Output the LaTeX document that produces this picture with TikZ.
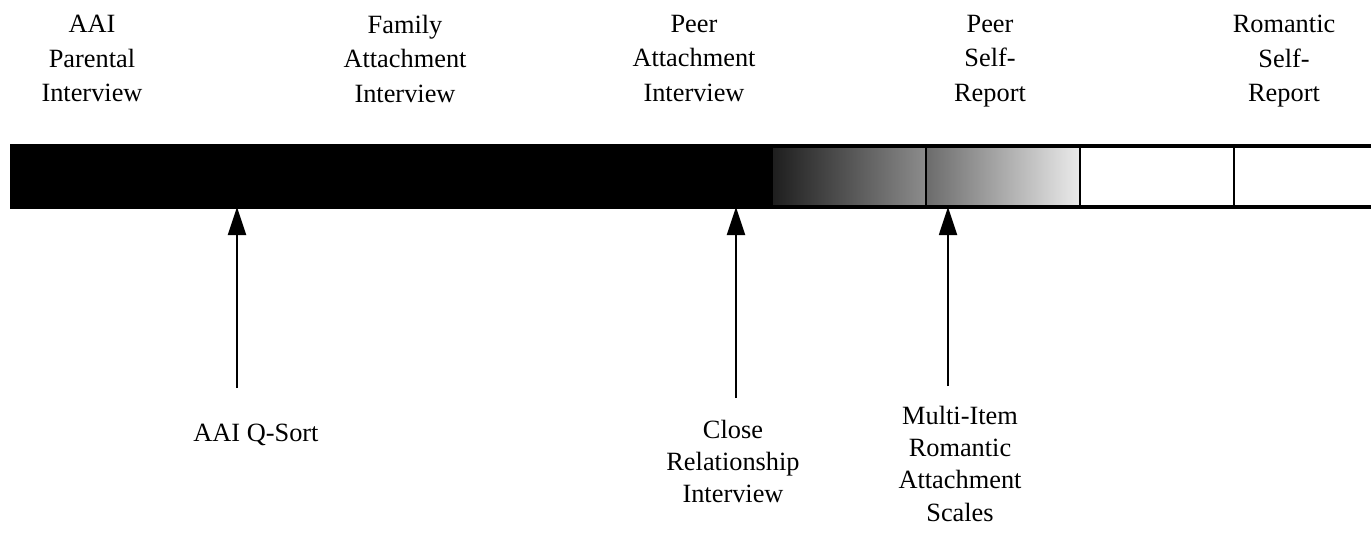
\documentclass[tikz,border=0pt]{standalone}
\usepackage{fontspec}
\setmainfont{Liberation Serif}
\usetikzlibrary{arrows.meta}

\begin{document}
\begin{tikzpicture}[x=0.02cm, y=-0.02cm,
  lbl/.style={align=center, inner sep=0pt, anchor=north,
    font=\fontsize{15}{19.5}\selectfont},
  low/.style={lbl, font=\fontsize{15}{18.3}\selectfont},
  pointer/.style={-{Triangle[length=5.6mm,width=3.6mm]}, line width=1.1pt},
  ]
  \useasboundingbox (0,0) rectangle (1371,532);

  % shaded bar
  \fill[black] (12,146) rectangle (773,207);
  \shade[left color=black!88, right color=black!45] (773,146) rectangle (926,207);
  \shade[left color=black!58, middle color=black!40, right color=black!8] (926,146) rectangle (1080,207);
  \draw[line width=2pt] (1371,146) -- (12,146) -- (12,207) -- (1371,207);
  \foreach \x in {926,1080,1234}
    \draw[line width=1.6pt] (\x,146) -- (\x,207);

  % measures along the top
  \node[lbl] (T1) at (92,  15) {AAI\\Parental\\Interview};
  \node[lbl] (T2) at (405, 15) {Family\\Attachment\\Interview};
  \node[lbl] (T3) at (694, 15) {Peer\\Attachment\\Interview};
  \node[lbl] (T4) at (990, 15) {Peer\\Self-\\Report};
  \node[lbl] (T5) at (1284,15) {Romantic\\Self-\\Report};

  % measures below the bar
  \node[low] (B1) at (256,424) {AAI Q-Sort};
  \node[low] (B2) at (733,420) {Close\\Relationship\\Interview};
  \node[low] (B3) at (960,406) {Multi-Item\\Romantic\\Attachment\\Scales};

  \coordinate (P1) at (237,207);
  \coordinate (P2) at (736,207);
  \coordinate (P3) at (948,207);
  \draw[pointer, shorten <=0.72cm] (B1.north -| P1) -- (P1);
  \draw[pointer, shorten <=0.44cm] (B2.north -| P2) -- (P2);
  \draw[pointer, shorten <=0.40cm] (B3.north -| P3) -- (P3);

\end{tikzpicture}
\end{document}
